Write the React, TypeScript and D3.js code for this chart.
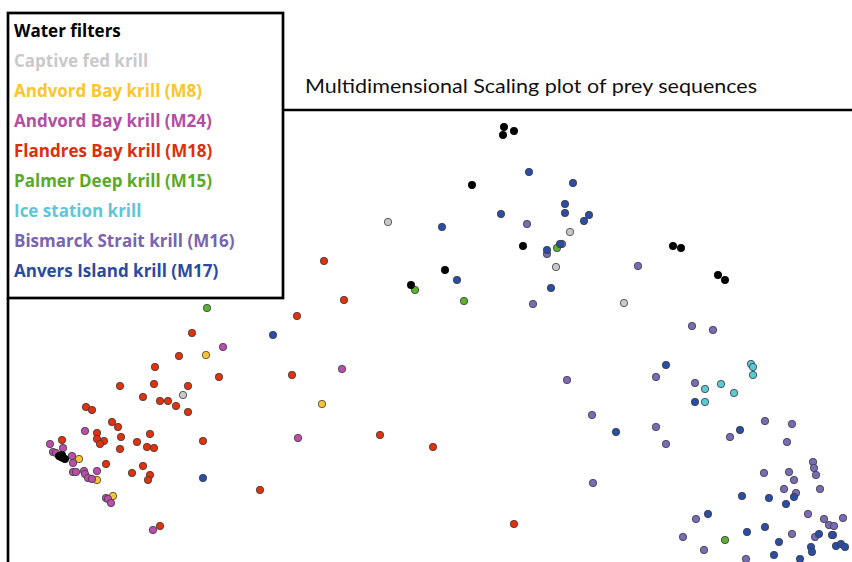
import React, { useEffect, useRef } from "react";
import * as d3 from "d3";

// MDS coordinates (dim1 across, dim2 down)
const waterFilters = [
  [504, 127], [503, 135], [514, 131], [472, 185], [523, 246], [445, 270],
  [411, 285], [673, 246], [681, 248], [718, 275], [725, 280],
  [59, 456], [61, 457], [63, 458], [65, 459], [62, 455],
];
const captiveFed = [[388, 222], [570, 232], [556, 267], [624, 303], [183, 395]];
const andvordM8 = [[206, 355], [322, 404], [79, 459], [97, 480], [113, 496]];
const andvordM24 = [
  [223, 347], [342, 369], [85, 431], [298, 438], [50, 444], [63, 448],
  [53, 452], [56, 453], [72, 456], [73, 463], [73, 472], [76, 472],
  [84, 471], [85, 474], [97, 471], [88, 478], [92, 479], [106, 498],
  [108, 499], [111, 503], [153, 530],
];
const flandresM18 = [
  [297, 316], [324, 261], [344, 300], [192, 333], [179, 356], [155, 367],
  [219, 377], [292, 375], [120, 386], [154, 384], [188, 386], [143, 397],
  [160, 401], [168, 401], [176, 406], [188, 412], [86, 407], [92, 410],
  [112, 422], [118, 427], [97, 433], [121, 437], [97, 439], [104, 441],
  [100, 444], [150, 434], [137, 442], [147, 447], [154, 448], [120, 449],
  [203, 441], [62, 440], [106, 464], [143, 466], [132, 473], [150, 475],
  [148, 480], [260, 490], [160, 526], [380, 435], [433, 447], [514, 524],
];
const palmerM15 = [[207, 308], [415, 290], [464, 301], [557, 248], [725, 540]];
const iceStation = [
  [751, 364], [753, 367], [753, 375], [721, 384], [705, 389], [734, 393], [705, 402],
];
const bismarckM16 = [
  [527, 224], [562, 244], [547, 254], [533, 304], [638, 266], [692, 326],
  [713, 330], [567, 380], [656, 377], [695, 383], [592, 415], [656, 427],
  [666, 444], [765, 421], [792, 424], [730, 437], [787, 442], [813, 462],
  [814, 468], [816, 475], [764, 473], [789, 472], [794, 480], [593, 483],
  [820, 489], [784, 489], [796, 493], [808, 514], [696, 519], [824, 519],
  [843, 518], [829, 525], [834, 526], [683, 537], [792, 534], [815, 537],
  [833, 535], [704, 550], [746, 559],
];
const anversM17 = [
  [529, 172], [573, 183], [565, 204], [565, 213], [501, 214], [442, 227],
  [584, 221], [589, 215], [560, 244], [547, 250], [457, 280], [551, 288],
  [273, 335], [203, 478], [666, 365], [695, 402], [616, 432], [740, 430],
  [742, 496], [769, 498], [794, 497], [786, 504], [708, 514], [747, 532],
  [765, 527], [819, 534], [832, 535], [779, 542], [836, 546], [841, 544],
  [845, 547], [811, 547], [812, 552], [774, 555], [800, 559],
];

const groupNames = [
  "Water filters",
  "Captive fed krill",
  "Andvord Bay krill (M8)",
  "Andvord Bay krill (M24)",
  "Flandres Bay krill (M18)",
  "Palmer Deep krill (M15)",
  "Ice station krill",
  "Bismarck Strait krill (M16)",
  "Anvers Island krill (M17)",
];
const groupPoints = [
  waterFilters, captiveFed, andvordM8, andvordM24, flandresM18,
  palmerM15, iceStation, bismarckM16, anversM17,
];
const dotColors = [
  "#000000", "#c8c8c8", "#fdc431", "#b94faa", "#e0320c",
  "#5bb22e", "#5cc8d6", "#7b6ab5", "#2a4ea6",
];
const textColors = [
  "#000000", "#c9c9c9", "#fcc52c", "#b24ea4", "#de2e0c",
  "#5aaa27", "#5ec6d8", "#7a63b0", "#2b4ba0",
];
// draw order, water filters last so they sit on top
const drawOrder = [1, 2, 3, 4, 5, 6, 7, 8, 0];

const title = "Multidimensional Scaling plot of prey sequences";

const App = () => {
  const svgRef = useRef<SVGSVGElement>(null);

  useEffect(() => {
    const width = 852;
    const height = 562;
    const font = "Lato, 'Open Sans', sans-serif";

    const svg = d3.select(svgRef.current);
    svg.selectAll("*").remove();
    svg.attr("width", width).attr("height", height).attr("viewBox", [0, 0, width, height]);

    svg.append("rect").attr("width", width).attr("height", height).attr("fill", "white");

    const x = d3.scaleLinear().domain([0, 852]).range([0, width]);
    const y = d3.scaleLinear().domain([0, 562]).range([0, height]);

    // frame
    const frame = svg.append("g").attr("stroke", "#000").attr("stroke-width", 2.7).attr("fill", "none");
    frame.append("line").attr("x1", 8).attr("x2", 8).attr("y1", 298).attr("y2", height);
    frame.append("line").attr("x1", 283).attr("x2", width).attr("y1", 110).attr("y2", 110);

    svg
      .append("text")
      .attr("x", 305)
      .attr("y", 92.5)
      .attr("textLength", 452)
      .attr("lengthAdjust", "spacingAndGlyphs")
      .style("font", `20px ${font}`)
      .attr("fill", "#111")
      .text(title);

    // points
    const points = svg.append("g");
    drawOrder.forEach((gi) => {
      points
        .append("g")
        .selectAll("circle")
        .data(groupPoints[gi])
        .join("circle")
        .attr("cx", (d) => x(d[0]))
        .attr("cy", (d) => y(d[1]))
        .attr("r", 3.7)
        .attr("fill", dotColors[gi])
        .attr("stroke", gi === 0 ? "#000" : "#3a3a3a")
        .attr("stroke-width", 0.8);
    });

    // legend
    const legend = svg.append("g");
    legend
      .append("rect")
      .attr("x", 8)
      .attr("y", 13)
      .attr("width", 275)
      .attr("height", 285)
      .attr("fill", "white")
      .attr("stroke", "#000")
      .attr("stroke-width", 2.7);

    legend
      .selectAll("text")
      .data(groupNames)
      .join("text")
      .attr("x", 14)
      .attr("y", (d, i) => 37 + i * 30)
      .style("font", "bold 17px 'Open Sans', sans-serif")
      .attr("fill", (d, i) => textColors[i])
      .text((d) => d);
  }, []);

  return (
    <svg
      ref={svgRef}
      style={{ position: "absolute", left: 0, top: 0, display: "block" }}
    ></svg>
  );
};

export default App;
